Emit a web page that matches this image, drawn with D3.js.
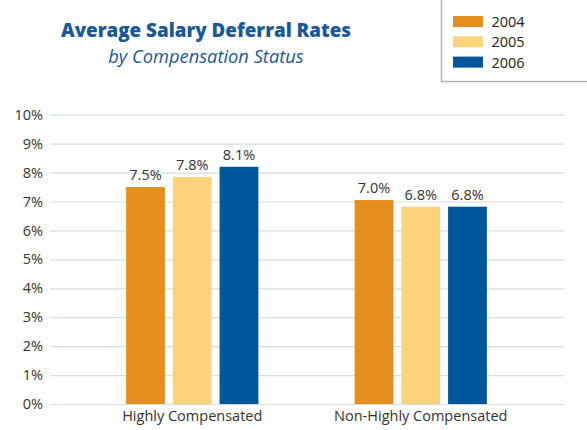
<!DOCTYPE html>
<html>
<head>
<meta charset="utf-8">
<script src="https://cdn.jsdelivr.net/npm/d3@7"></script>
<style>
  body { margin: 0; background: #fff; }
  svg { display: block; font-family: "Open Sans", "Noto Sans", sans-serif; }
</style>
</head>
<body>
<svg id="svg" width="587" height="430"></svg>
<script>
const categories = ['Highly Compensated', 'Non-Highly Compensated']
const years = ['2004', '2005', '2006']
const values2004 = [7.5, 7.05]
const values2005 = [7.85, 6.82]
const values2006 = [8.2, 6.82]
const labels2004 = ['7.5%', '7.0%']
const labels2005 = ['7.8%', '6.8%']
const labels2006 = ['8.1%', '6.8%']
const yTicks = [0, 1, 2, 3, 4, 5, 6, 7, 8, 9, 10]

const series = [
  { year: '2004', values: values2004, labels: labels2004 },
  { year: '2005', values: values2005, labels: labels2005 },
  { year: '2006', values: values2006, labels: labels2006 }
]

const colourScale = d3.scaleOrdinal()
  .domain(years)
  .range(['#e38e1e', '#fdd37b', '#00569a'])

const svg = d3.select('#svg')

const yScale = d3.scaleLinear()
  .domain([0, 10])
  .range([404, 114.7])

const xScale = d3.scaleBand()
  .domain(categories)
  .range([78, 535])

const innerScale = d3.scaleBand()
  .domain(years)
  .range([0, xScale.bandwidth()])
  .paddingInner(0.17)
  .paddingOuter(1.03)

// gridlines + y labels
const yAxis = d3.axisLeft(yScale)
  .tickValues(yTicks)
  .tickFormat(d => d + '%')
  .tickSize(-(564 - 50))
  .tickPadding(7)

const yg = svg.append('g')
  .attr('transform', 'translate(50, 0)')
  .call(yAxis)
yg.select('.domain').remove()
yg.selectAll('.tick line').attr('stroke', '#d6dede').attr('stroke-width', 1.2)
yg.selectAll('.tick text')
  .attr('fill', '#333')
  .attr('font-size', 14.5)
  .attr('font-family', '"Open Sans", sans-serif')

// bars
const groups = svg.append('g').selectAll('g')
  .data(series)
  .enter()
  .append('g')
  .attr('fill', d => colourScale(d.year))

groups.selectAll('rect')
  .data(s => s.values.map((v, i) => ({ year: s.year, cat: categories[i], value: v, label: s.labels[i] })))
  .enter()
  .append('rect')
  .attr('x', d => xScale(d.cat) + innerScale(d.year))
  .attr('y', d => yScale(d.value))
  .attr('width', innerScale.bandwidth())
  .attr('height', d => yScale(0) - yScale(d.value))

// value labels
svg.append('g').selectAll('text')
  .data(series.flatMap(s => s.values.map((v, i) => ({ year: s.year, cat: categories[i], value: v, label: s.labels[i] }))))
  .enter()
  .append('text')
  .attr('x', d => xScale(d.cat) + innerScale(d.year) + innerScale.bandwidth() / 2)
  .attr('y', d => yScale(d.value) - 7)
  .attr('text-anchor', 'middle')
  .attr('fill', '#333')
  .attr('font-size', 14.5)
  .text(d => d.label)

// x labels
const xAxis = d3.axisBottom(xScale).tickSize(0).tickPadding(7)
const xg = svg.append('g')
  .attr('transform', `translate(0, ${yScale(0)})`)
  .call(xAxis)
xg.select('.domain').remove()
xg.selectAll('.tick text')
  .attr('fill', '#333')
  .attr('font-size', 14.5)
  .attr('font-family', '"Open Sans", sans-serif')

// title
svg.append('text')
  .attr('x', 206)
  .attr('y', 37)
  .attr('text-anchor', 'middle')
  .attr('fill', '#1b5896')
  .attr('font-size', 18.8)
  .attr('font-weight', 800)
  .text('Average Salary Deferral Rates')

svg.append('text')
  .attr('x', 206)
  .attr('y', 63)
  .attr('text-anchor', 'middle')
  .attr('fill', '#1b5896')
  .attr('font-size', 18.3)
  .attr('font-style', 'italic')
  .text('by Compensation Status')

// legend
svg.append('rect')
  .attr('x', 441.5)
  .attr('y', -2)
  .attr('width', 160)
  .attr('height', 83.5)
  .attr('fill', 'none')
  .attr('stroke', '#aab6b5')
  .attr('stroke-width', 1.5)

const legend = svg.append('g').selectAll('g')
  .data(years)
  .enter()
  .append('g')
  .attr('transform', (d, i) => `translate(453, ${16 + i * 20.3})`)

legend.append('rect')
  .attr('width', 30)
  .attr('height', 11)
  .attr('fill', d => colourScale(d))

legend.append('text')
  .attr('x', 38.5)
  .attr('y', 11)
  .attr('fill', '#222')
  .attr('font-size', 14.5)
  .text(d => d)
</script>
</body>
</html>
